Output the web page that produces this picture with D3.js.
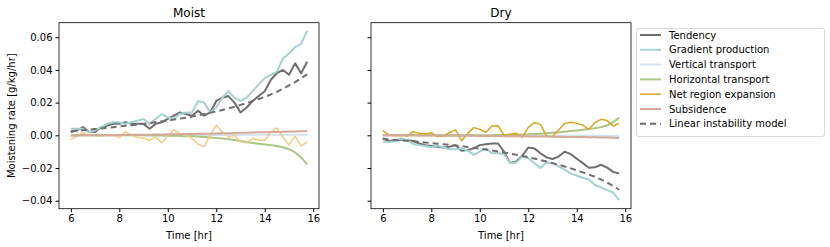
<!DOCTYPE html>
<html>
<head>
<meta charset="utf-8">
<script src="https://cdn.jsdelivr.net/npm/d3@7"></script>
<style>
  body { margin: 0; background: #fff; }
  svg { font-family: "DejaVu Sans", sans-serif; }
</style>
</head>
<body>
<svg id="chart" width="830" height="247"></svg>
<script>
// time axis, every 15 min
const times = d3.range(40).map(i => 6 + i * 0.25);

const moistTendency = [0.002, 0.003, 0.005, 0.002, 0.002, 0.005, 0.006, 0.007, 0.007, 0.008,
  0.007, 0.007, 0.007, 0.004, 0.007, 0.008, 0.010, 0.012, 0.014, 0.013,
  0.012, 0.015, 0.012, 0.014, 0.021, 0.023, 0.024, 0.020, 0.014, 0.017,
  0.021, 0.024, 0.027, 0.034, 0.038, 0.040, 0.037, 0.044, 0.038, 0.045];
const moistGradient = [0.004, 0.004, 0.004, 0.002, 0.003, 0.005, 0.007, 0.008, 0.008, 0.007,
  0.008, 0.009, 0.010, 0.007, 0.010, 0.013, 0.011, 0.010, 0.013, 0.014,
  0.014, 0.021, 0.020, 0.014, 0.017, 0.023, 0.027, 0.023, 0.021, 0.023,
  0.027, 0.031, 0.035, 0.037, 0.039, 0.047, 0.050, 0.054, 0.056, 0.064];
const moistVertical = [0, 0, 0, 0, 0, 0, 0, 0, 0, 0,
  0, 0, 0, 0, 0, 0, 0, 0.0001, 0.0001, 0.0001,
  0.0001, 0.0001, 0.0001, 0.0002, 0.0002, 0.0002, 0.0002, 0.0002, 0.0002, 0.0003,
  0.0003, 0.0003, 0.0003, 0.0003, 0.0003, 0.0003, 0.0003, 0.0003, 0.0003, 0.0003];
const moistHorizontal = [0, 0, 0, 0, 0, 0, 0, 0, 0, 0,
  0, 0, 0, -0.0001, -0.0001, -0.0001, -0.0002, -0.0003, -0.0004, -0.0005,
  -0.0006, -0.0008, -0.0010, -0.0013, -0.0017, -0.0020, -0.0024, -0.0029, -0.0035, -0.0041,
  -0.0047, -0.0052, -0.0056, -0.0060, -0.0065, -0.0073, -0.0085, -0.0105, -0.0135, -0.0178];
const moistExpansion = [-0.0025, -0.0006, 0.0016, 0.0002, -0.0002, -0.0004, 0, 0.0004, -0.0014, 0.0020,
  0.0002, -0.0014, -0.0018, -0.0030, -0.0010, -0.0045, -0.0004, 0.0033, 0.0012, 0.0002,
  -0.0020, -0.0055, -0.0070, 0.0002, 0.0060, 0.0022, -0.0012, 0, -0.0040, -0.0045,
  -0.0020, -0.0030, -0.0030, 0.0020, 0.0045, -0.0010, -0.0060, -0.0005, -0.0066, -0.0040];
const moistSubsidence = [-0.0001, -0.0001, 0, 0, 0, 0.0001, 0.0001, 0.0001, 0.0002, 0.0002,
  0.0003, 0.0003, 0.0004, 0.0004, 0.0005, 0.0005, 0.0006, 0.0006, 0.0007, 0.0008,
  0.0008, 0.0009, 0.0010, 0.0010, 0.0011, 0.0012, 0.0013, 0.0014, 0.0015, 0.0016,
  0.0017, 0.0018, 0.0019, 0.0020, 0.0021, 0.0022, 0.0023, 0.0024, 0.0025, 0.0026];
const moistModel = [0.0025, 0.0028, 0.0031, 0.0034, 0.0038, 0.0042, 0.0046, 0.0050, 0.0054, 0.0058,
  0.0062, 0.0066, 0.0070, 0.0075, 0.0080, 0.0085, 0.0090, 0.0096, 0.0102, 0.0108,
  0.0115, 0.0122, 0.0130, 0.0138, 0.0146, 0.0155, 0.0165, 0.0175, 0.0186, 0.0197,
  0.0209, 0.0222, 0.0235, 0.0250, 0.0266, 0.0285, 0.0305, 0.0326, 0.0349, 0.0373];

const dryTendency = [-0.0018, -0.0035, -0.0030, -0.0025, -0.0030, -0.0035, -0.0050, -0.0060, -0.0065, -0.0070,
  -0.0075, -0.0070, -0.0060, -0.0095, -0.0090, -0.0080, -0.0060, -0.0055, -0.0050, -0.0050,
  -0.0100, -0.0170, -0.0160, -0.0125, -0.0075, -0.0080, -0.0110, -0.0135, -0.0145, -0.0130,
  -0.0100, -0.0115, -0.0143, -0.0170, -0.0198, -0.0196, -0.0180, -0.0198, -0.0224, -0.0233];
const dryGradient = [-0.0040, -0.0043, -0.0037, -0.0018, -0.0030, -0.0053, -0.0060, -0.0065, -0.0073, -0.0063,
  -0.0073, -0.0086, -0.0086, -0.0080, -0.0094, -0.0120, -0.0100, -0.0080, -0.0110, -0.0110,
  -0.0115, -0.0171, -0.0167, -0.0130, -0.0140, -0.0170, -0.0200, -0.0167, -0.0170, -0.0190,
  -0.0210, -0.0233, -0.0247, -0.0260, -0.0270, -0.0304, -0.0318, -0.0335, -0.0350, -0.0396];
const dryVertical = [0, 0, 0, 0, 0, 0, 0, 0, 0, 0,
  0, 0, 0, 0, 0, -0.0001, -0.0001, -0.0001, -0.0001, -0.0001,
  -0.0001, -0.0001, -0.0001, -0.0002, -0.0002, -0.0002, -0.0002, -0.0002, -0.0002, -0.0002,
  -0.0003, -0.0003, -0.0003, -0.0003, -0.0003, -0.0003, -0.0003, -0.0004, -0.0004, -0.0004];
const dryHorizontal = [0, 0, 0, 0, 0, 0, 0, 0, 0, 0,
  0, 0, 0, 0, 0, 0, 0.0001, 0.0001, 0.0001, 0.0002,
  0.0002, 0.0003, 0.0004, 0.0005, 0.0006, 0.0008, 0.0010, 0.0012, 0.0015, 0.0018,
  0.0022, 0.0026, 0.0030, 0.0034, 0.0038, 0.0043, 0.0050, 0.0060, 0.0080, 0.0108];
const dryExpansion = [0.0028, 0.0002, -0.0002, 0, -0.0004, 0.0022, 0.0012, 0.0008, 0.0016, -0.0008,
  -0.0004, 0.0016, 0.0033, -0.0033, 0.0012, 0.0047, 0.0037, 0.0018, 0.0057, 0.0059,
  0.0002, 0.0006, 0.0012, -0.0012, 0.0049, 0.0078, 0.0067, -0.0004, -0.0008, 0.0033,
  0.0073, 0.0080, 0.0073, 0.0063, 0.0037, 0.0078, 0.0098, 0.0090, 0.0057, 0.0073];
const drySubsidence = [0, 0, 0, 0, 0, 0, -0.0001, -0.0001, -0.0001, -0.0001,
  -0.0002, -0.0002, -0.0002, -0.0003, -0.0003, -0.0003, -0.0004, -0.0004, -0.0004, -0.0005,
  -0.0005, -0.0006, -0.0006, -0.0006, -0.0007, -0.0007, -0.0008, -0.0008, -0.0009, -0.0009,
  -0.0010, -0.0010, -0.0011, -0.0011, -0.0012, -0.0012, -0.0013, -0.0014, -0.0015, -0.0016];
const dryModel = [-0.0022, -0.0025, -0.0028, -0.0031, -0.0034, -0.0037, -0.0040, -0.0044, -0.0048, -0.0051,
  -0.0055, -0.0059, -0.0063, -0.0067, -0.0072, -0.0077, -0.0082, -0.0087, -0.0093, -0.0099,
  -0.0105, -0.0112, -0.0119, -0.0126, -0.0134, -0.0142, -0.0151, -0.0160, -0.0170, -0.0180,
  -0.0191, -0.0202, -0.0214, -0.0227, -0.0240, -0.0254, -0.0270, -0.0288, -0.0310, -0.0333];

const seriesNames = ["Tendency", "Gradient production", "Vertical transport",
  "Horizontal transport", "Net region expansion", "Subsidence", "Linear instability model"];
const xTicks = [6, 8, 10, 12, 14, 16];
const yTicks = [-0.04, -0.02, 0.0, 0.02, 0.04, 0.06];

const styles = {
  "Tendency": { color: "#6e6e6e", width: 2 },
  "Gradient production": { color: "#a6d1d1", width: 2 },
  "Vertical transport": { color: "#d3e2f1", width: 2 },
  "Horizontal transport": { color: "#abc583", width: 2 },
  "Net region expansion": { color: "#daa520", width: 1.5 },
  "Subsidence": { color: "#d5a898", width: 2 },
  "Linear instability model": { color: "#6e6e6e", width: 2, dash: "6,4" }
};

const panels = [
  { title: "Moist", left: 59, data: [moistTendency, moistGradient, moistVertical, moistHorizontal, moistExpansion, moistSubsidence, moistModel], expansionColor: "#efcd84" },
  { title: "Dry", left: 371, data: [dryTendency, dryGradient, dryVertical, dryHorizontal, dryExpansion, drySubsidence, dryModel], expansionColor: "#daa520" }
];

const svg = d3.select("#chart");
const plotTop = 22.7, plotH = 186, plotW = 260;

const y = d3.scaleLinear().domain([-0.0449, 0.0689]).range([plotTop + plotH, plotTop]);

const line = (x) => d3.line().x((d, i) => x(times[i])).y(d => y(d));

panels.forEach((p, pi) => {
  const x = d3.scaleLinear().domain([5.5125, 16.2375]).range([p.left, p.left + plotW]);
  const g = svg.append("g");

  p.data.forEach((vals, si) => {
    const name = seriesNames[si];
    const st = styles[name];
    g.append("path")
      .datum(vals)
      .attr("fill", "none")
      .attr("stroke", name === "Net region expansion" ? p.expansionColor : st.color)
      .attr("stroke-width", st.width)
      .attr("stroke-dasharray", st.dash || null)
      .attr("stroke-linejoin", "round")
      .attr("d", line(x));
  });

  // frame
  g.append("rect")
    .attr("x", p.left).attr("y", plotTop)
    .attr("width", plotW).attr("height", plotH)
    .attr("fill", "none").attr("stroke", "#000").attr("stroke-width", 0.8);

  const xAxis = g.append("g")
    .attr("transform", `translate(0,${plotTop + plotH})`)
    .call(d3.axisBottom(x).tickValues(xTicks).tickSize(3.5).tickPadding(3).tickFormat(d3.format("d")));
  xAxis.select(".domain").remove();
  xAxis.selectAll("text").attr("font-size", 10).attr("fill", "#000").attr("font-family", "DejaVu Sans");

  const yAxis = g.append("g")
    .attr("transform", `translate(${p.left},0)`)
    .call(d3.axisLeft(y).tickValues(yTicks).tickSize(3.5).tickPadding(3)
      .tickFormat(pi === 0 ? (d => d3.format(".2f")(d).replace("-", "\u2212")) : ""));
  yAxis.select(".domain").remove();
  yAxis.selectAll("text").attr("font-size", 10).attr("fill", "#000").attr("font-family", "DejaVu Sans");

  g.append("text")
    .attr("x", p.left + plotW / 2).attr("y", plotTop - 6)
    .attr("text-anchor", "middle").attr("font-size", 12)
    .text(p.title);

  g.append("text")
    .attr("x", p.left + plotW / 2).attr("y", 239)
    .attr("text-anchor", "middle").attr("font-size", 10)
    .text("Time [hr]");
});

svg.append("text")
  .attr("transform", `translate(15,${plotTop + plotH / 2}) rotate(-90)`)
  .attr("text-anchor", "middle").attr("font-size", 10)
  .text("Moistening rate [g/kg/hr]");

// legend
const legend = svg.append("g").attr("transform", "translate(636,28)");
legend.append("rect")
  .attr("x", 0.5).attr("y", 0.5).attr("width", 188).attr("height", 108)
  .attr("rx", 2.5).attr("fill", "#fff").attr("stroke", "#d0d0d0").attr("stroke-width", 0.8);

seriesNames.forEach((name, i) => {
  const st = styles[name];
  const ly = 7 + i * 14.8;
  legend.append("line")
    .attr("x1", 4).attr("x2", 25).attr("y1", ly).attr("y2", ly)
    .attr("stroke", st.color).attr("stroke-width", st.width)
    .attr("stroke-dasharray", st.dash || null);
  legend.append("text")
    .attr("x", 33).attr("y", ly + 3.6).attr("font-size", 10)
    .text(name);
});
</script>
</body>
</html>
